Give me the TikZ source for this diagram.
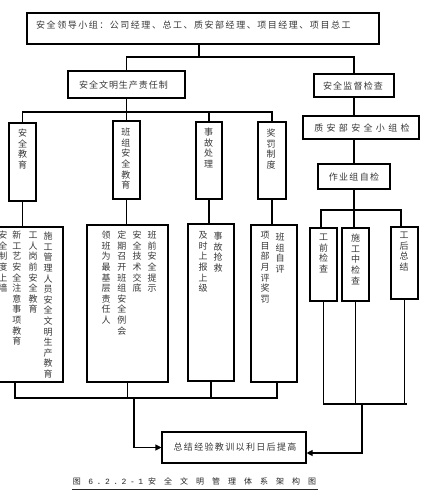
\documentclass[tikz,border=0pt]{standalone}
\usepackage{fontspec}
\setmainfont{Noto Sans CJK SC}
\newfontfamily\capmono{Liberation Mono}
\usetikzlibrary{arrows.meta,calc}
\definecolor{txt}{gray}{0.22}
\newcommand\vtxt[1]{\vbox{\offinterlineskip\vtxtA#1\relax}}
\def\vtxtA#1{\ifx\relax#1\else\hbox to 10pt{\hss\vrule height 8.7pt depth 1.9pt width 0pt #1\hss}\expandafter\vtxtA\fi}
\begin{document}
\begin{tikzpicture}[x=1pt,y=-1pt,
  bx/.style={draw, line width=1.1pt, inner sep=0},
  ln/.style={line width=1.1pt},
  vt/.style={inner sep=0, anchor=north, text=txt, font=\fontsize{9}{10}\selectfont},
  ht/.style={inner sep=0, text=txt, font=\fontsize{9}{10}\selectfont},
  arr/.style={ln, -{Triangle[length=6pt,width=6pt]}}]
\useasboundingbox (0,0) rectangle (426,499);
\fill[white] (0,0) rectangle (426,499);

% top
\node[bx, minimum width=352, minimum height=31] (lead) at (203,28.5) {};
\node[ht, anchor=west] (leadt) at (36,25) {\addfontfeature{LetterSpace=17}安全领导小组：公司经理、总工、质安部经理、项目经理、项目总工};

\node[bx, minimum width=117, minimum height=27] (resp) at (126.5,84.5) {};
\node[ht] (respt) at (123.5,85) {\addfontfeature{LetterSpace=11}安全文明生产责任制};
\node[bx, minimum width=80, minimum height=23] (sup) at (354,85.5) {};
\node[ht] (supt) at (353,86) {\addfontfeature{LetterSpace=13}安全监督检查};

\coordinate (j1) at (199,57);
\draw[ln] (lead.south -| j1) -- (j1);
\draw[ln] (resp.north) |- (j1);
\draw[ln] (j1) -| (sup.north);

% column boxes
\node[bx, minimum width=27, minimum height=78] (jy) at (22.5,162) {};
\node[bx, minimum width=27, minimum height=78] (bz) at (126.5,160) {};
\node[bx, minimum width=26, minimum height=77] (sg) at (209,160.5) {};
\node[bx, minimum width=28, minimum height=77] (jf) at (272,160.5) {};
\coordinate (j2) at (126.5,112);
\draw[ln] (resp.south) -- (j2);
\draw[ln] (jy.north) |- (j2) -| (jf.north);
\draw[ln] (bz.north) -- (j2);
\draw[ln] (sg.north) -- (sg.north |- j2);

\node[vt] (jyt) at (22.5,127.7) {\vtxt{安全教育}};
\node[vt] (bzt) at (126,126.7) {\vtxt{班组安全教育}};
\node[vt] (sgt) at (208.5,126.7) {\vtxt{事故处理}};
\node[vt] (jft) at (271,127.7) {\vtxt{奖罚制度}};

% content boxes
\node[bx, minimum width=73, minimum height=155] (jyc) at (26.5,304.5) {};
\node[bx, minimum width=81, minimum height=157] (bzc) at (127.5,303.5) {};
\node[bx, minimum width=46, minimum height=157] (sgc) at (211,302.5) {};
\node[bx, minimum width=46, minimum height=157] (jfc) at (274,303.5) {};
\draw[ln] (jy.south) -- (jy.south |- jyc.north);
\draw[ln] (bz.south) -- (bz.south |- bzc.north);
\draw[ln] (sg.south) -- (sg.south |- sgc.north);
\draw[ln] (jf.south) -- (jf.south |- jfc.north);

\node[vt] (a1) at (48,230.7) {\vtxt{施工管理人员安全文明生产教育}};
\node[vt] (a2) at (33,229.7) {\vtxt{工人岗前安全教育}};
\node[vt] (a3) at (17,229.7) {\vtxt{新工艺安全注意事项教育}};
\node[vt] (a4) at (3,229.7) {\vtxt{安全制度上墙}};
\node[vt] (b1) at (152,229.7) {\vtxt{班前安全提示}};
\node[vt] (b2) at (137,229.7) {\vtxt{安全技术交底}};
\node[vt] (b3) at (122,229.7) {\vtxt{定期召开班组安全例会}};
\node[vt] (b4) at (106,229.7) {\vtxt{领班为最基层责任人}};
\node[vt] (s1) at (218,230.7) {\vtxt{事故抢救}};
\node[vt] (s2) at (203,229.7) {\vtxt{及时上报上级}};
\node[vt] (f1) at (280,231.7) {\vtxt{班组自评}};
\node[vt] (f2) at (265,229.7) {\vtxt{项目部月评奖罚}};

% summary
\node[bx, minimum width=144, minimum height=31] (sum) at (234,447.5) {};
\node[ht] (sumt) at (235,447) {\addfontfeature{LetterSpace=15}总结经验教训以利日后提高};

\coordinate (j3) at (134,398);
\coordinate (h3l) at (15,398);
\coordinate (h3r) at (277,398);
\draw[ln] (h3l |- jyc.south) -- (h3l) -- (h3r) -- (h3r |- jfc.south);
\draw[ln] (bzc.south) -- (bzc.south |- j3);
\draw[ln] (sgc.south) -- (sgc.south |- j3);
\draw[arr] (j3) |- (sum.west);

% right side
\node[bx, minimum width=116, minimum height=23] (zb) at (361,127.5) {};
\node[ht] (zbt) at (362,128) {\addfontfeature{LetterSpace=37}质安部安全小组检};
\node[bx, minimum width=72, minimum height=25] (zy) at (354,176.5) {};
\node[ht] (zyt) at (354,177) {\addfontfeature{LetterSpace=15}作业组自检};
\draw[ln] (sup.south) -- (sup.south |- zb.north);
\draw[ln] (zy.north) -- (zy.north |- zb.south);

\node[bx, minimum width=27, minimum height=73] (c1) at (323.5,264.5) {};
\node[bx, minimum width=27, minimum height=73] (c2) at (355.5,264.5) {};
\node[bx, minimum width=27, minimum height=72] (c3) at (404.5,263) {};
\coordinate (j4) at (354,210);
\draw[ln] (zy.south) -- (zy.south |- c2.north);
\draw[ln] ([xshift=-2.5pt]c1.north) |- (j4) -| ([xshift=-3.5pt]c3.north);

\node[vt] (k1) at (323.5,231.7) {\vtxt{工前检查}};
\node[vt] (k2) at (355.5,232.7) {\vtxt{施工中检查}};
\node[vt] (k3) at (404,229.7) {\vtxt{工后总结}};

\coordinate (j5) at (362,404);
\draw[ln] (c1.south) |- ([xshift=2.5pt]c3.south |- j5);
\draw[ln] (c3.south) -- (c3.south |- j5);
\draw[ln] (c2.south) -- (c2.south |- j5);
\draw[arr] (j5) |- ($(sum.east)+(0,5.5)$);

% caption
\node[inner sep=0, anchor=base west, text=black!85] (cap) at (72.7,484.3) {\fontsize{8}{10}\selectfont 图\hspace{7.5pt}{\capmono\addfontfeature{LetterSpace=44}6.2.2-1}\hspace{5pt}{\addfontfeature{LetterSpace=100}安全文明管理体系架构图}};
\draw[line width=0.8pt, black!85] ($(cap.base west)+(-0.7,4.7)$) -- ($(cap.base east)+(2,4.7)$);
\end{tikzpicture}
\end{document}
